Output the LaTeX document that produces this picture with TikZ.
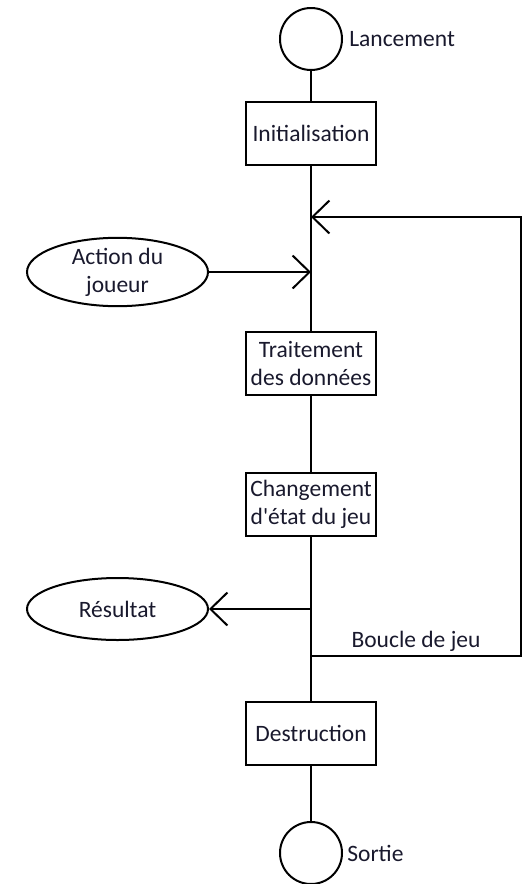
\documentclass[tikz,border=0pt]{standalone}
\usepackage{fontspec}
\setmainfont{Carlito}
\usepackage{tikz}
\usetikzlibrary{arrows.meta,positioning,shapes.geometric}
\definecolor{inkblue}{RGB}{25,25,45}

\begin{document}
\begin{tikzpicture}[
      x=1pt, y=-1pt,
      line width=2pt,
      every node/.style={font=\fontsize{23.5}{28}\selectfont, text=inkblue},
      box/.style={draw, minimum width=130pt, minimum height=63pt, inner sep=2pt, align=center},
      term/.style={draw, circle, minimum size=62pt, inner sep=0pt},
      ell/.style={draw, ellipse, minimum width=181pt, minimum height=62pt, inner sep=0pt, align=center},
      arr/.style={-{Straight Barb[length=17pt, width=33pt]}}
    ]
      \useasboundingbox (0,0) rectangle (523,884);
      \node[term] (start) at (311,39) {};
      \node[right=2pt of start] (startlbl) {Lancement};
      \node[box, below=30pt of start] (init) {Initialisation};
      \node[box, below=165pt of init] (trait) {Traitement\\des données};
      \node[box, below=76pt of trait] (change) {Changement\\d\textquotesingle état du jeu};
      \node[box, below=164pt of change] (destr) {Destruction};
      \node[term, below=55pt of destr] (stop) {};
      \node[right=0pt of stop] (stoplbl) {Sortie};
      \node[ell] (action) at (117.5,272) {Action du\\joueur};
      \node[ell] (res) at (117.5,609) {Résultat};
      \coordinate (loopin) at (311,217);
      \coordinate (actin) at (311,272);
      \coordinate (resout) at (311,609);
      \coordinate (loopout) at (311,656);
      \coordinate (loopbr) at (521,656);
      \draw (start) -- (init) -- (trait) -- (change) -- (destr) -- (stop);
      \draw[arr] (action) -- (actin);
      \draw[arr] (resout) -- (res);
      \draw[arr] (loopout) -- node[above]{Boucle de jeu} (loopbr) |- (loopin);
    \end{tikzpicture}
\end{document}
